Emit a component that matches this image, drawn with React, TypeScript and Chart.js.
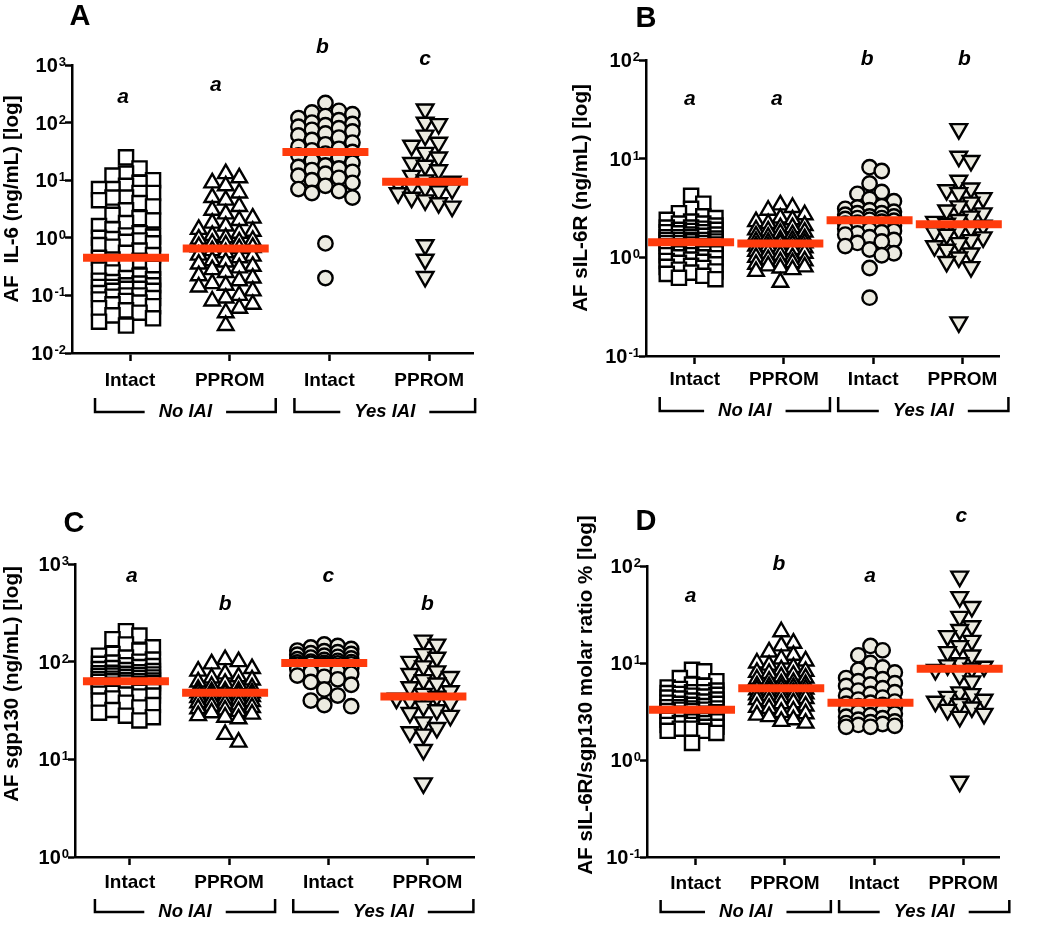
import React, { useEffect, useRef } from "react";
import { Chart, registerables } from "chart.js";
Chart.register(...registerables);

// ---------- shared labels ----------
const groupLabels = ["Intact", "PPROM", "Intact", "PPROM"];
const bracketLabels = ["No IAI", "Yes IAI"];

// ---------- Panel A: AF IL-6 (ng/mL) ----------
const aTickExps = [-2, -1, 0, 1, 2, 3];
const aIntact = [25, 16, 13, 12, 10, 9, 8, 7, 7, 6, 6, 5, 5, 4.5, 4, 3.5, 3, 2.5, 2.2, 2, 1.8, 1.6, 1.4, 1.2, 1.1, 1.05, 1, 0.95, 0.9, 0.85, 0.8, 0.75, 0.7, 0.6, 0.55, 0.5, 0.45, 0.42, 0.4, 0.35, 0.3, 0.28, 0.25, 0.22, 0.2, 0.19, 0.18, 0.17, 0.16, 0.15, 0.15, 0.14, 0.14, 0.13, 0.13, 0.12, 0.12, 0.11, 0.1, 0.1, 0.095, 0.09, 0.085, 0.08, 0.075, 0.07, 0.065, 0.06, 0.055, 0.05, 0.045, 0.04, 0.035, 0.03];
const aPprom = [13, 11, 9, 8, 6, 5, 4.5, 3.5, 3, 2.6, 2.2, 2, 1.8, 1.6, 1.4, 1.3, 1.2, 1.1, 1, 0.95, 0.9, 0.85, 0.8, 0.75, 0.7, 0.68, 0.65, 0.6, 0.55, 0.5, 0.48, 0.45, 0.4, 0.38, 0.35, 0.32, 0.3, 0.28, 0.25, 0.22, 0.2, 0.18, 0.16, 0.15, 0.14, 0.12, 0.1, 0.09, 0.08, 0.07, 0.06, 0.05, 0.03];
const aYesIntact = [220, 160, 150, 140, 130, 120, 110, 100, 95, 90, 85, 80, 75, 70, 65, 60, 55, 50, 45, 42, 38, 35, 33, 31, 29, 27, 25, 22, 20, 18, 17, 16, 15, 14, 13, 12, 11, 10, 9, 8, 7, 6.5, 6, 5, 0.8, 0.2];
const aYesPprom = [170, 100, 95, 60, 45, 40, 30, 25, 20, 18, 15, 12, 10, 9.5, 9, 8.5, 8, 7.5, 7, 6.5, 6, 5, 4.5, 4, 3.5, 0.75, 0.42, 0.21];
const aMedians = [0.45, 0.65, 31, 9.4];
const aLetters = ["a", "a", "b", "c"];

// ---------- Panel B: AF sIL-6R (ng/mL) ----------
const bTickExps = [-1, 0, 1, 2];
const bIntact = [4.2, 3.5, 3.1, 2.8, 2.6, 2.5, 2.4, 2.3, 2.2, 2.2, 2.1, 2.0, 2.0, 1.95, 1.9, 1.9, 1.85, 1.8, 1.8, 1.75, 1.7, 1.7, 1.65, 1.6, 1.6, 1.6, 1.55, 1.5, 1.5, 1.5, 1.5, 1.45, 1.45, 1.4, 1.4, 1.4, 1.35, 1.35, 1.3, 1.3, 1.3, 1.25, 1.25, 1.2, 1.2, 1.15, 1.15, 1.1, 1.1, 1.1, 1.05, 1.05, 1.0, 1.0, 0.98, 0.95, 0.92, 0.9, 0.88, 0.85, 0.82, 0.8, 0.78, 0.75, 0.72, 0.7, 0.68, 0.65, 0.62, 0.6];
const bPprom = [3.4, 3.2, 3.0, 2.7, 2.5, 2.4, 2.3, 2.2, 2.1, 2.0, 2.0, 1.9, 1.85, 1.8, 1.75, 1.7, 1.65, 1.6, 1.55, 1.5, 1.5, 1.45, 1.42, 1.4, 1.38, 1.35, 1.3, 1.28, 1.25, 1.2, 1.2, 1.15, 1.1, 1.1, 1.05, 1.0, 1.0, 0.95, 0.92, 0.9, 0.88, 0.85, 0.82, 0.8, 0.78, 0.75, 0.72, 0.56];
const bYesIntact = [8.2, 7.5, 5.6, 4.6, 4.4, 3.9, 3.7, 3.3, 3.2, 3.1, 3.0, 2.9, 2.8, 2.8, 2.7, 2.6, 2.6, 2.5, 2.5, 2.45, 2.4, 2.35, 2.3, 2.25, 2.2, 2.15, 2.1, 2.05, 2.0, 1.95, 1.9, 1.85, 1.8, 1.75, 1.7, 1.6, 1.5, 1.45, 1.4, 1.3, 1.2, 1.1, 1.05, 0.78, 0.39];
const bYesPprom = [20, 10.5, 9.5, 6, 5, 4.8, 4.5, 4, 3.6, 3.3, 3.0, 2.8, 2.6, 2.4, 2.3, 2.2, 2.1, 2.0, 1.9, 1.8, 1.7, 1.6, 1.5, 1.4, 1.3, 1.2, 1.1, 1.0, 0.9, 0.8, 0.22];
const bMedians = [1.42, 1.38, 2.37, 2.16];
const bLetters = ["a", "a", "b", "b"];

// ---------- Panel C: AF sgp130 (ng/mL) ----------
const cTickExps = [0, 1, 2, 3];
const cIntact = [205, 185, 170, 150, 140, 130, 120, 115, 110, 105, 100, 98, 95, 92, 90, 88, 86, 84, 82, 80, 78, 77, 76, 75, 74, 73, 72, 71, 70, 69, 68, 67, 66, 65, 64, 63, 63, 62, 61, 60, 59, 58, 57, 56, 55, 54, 53, 52, 51, 50, 49, 48, 47, 46, 45, 44, 42, 40, 38, 36, 34, 32, 30, 28, 27, 25];
const cPprom = [105, 100, 95, 85, 80, 75, 70, 68, 65, 62, 60, 58, 56, 54, 52, 50, 50, 49, 48, 48, 47, 46, 45, 44, 43, 42, 41, 40, 39, 38, 37, 36, 35, 34, 33, 32, 31, 30, 29, 28, 27, 26, 18, 15];
const cYesIntact = [150, 145, 140, 135, 130, 128, 125, 122, 120, 118, 115, 112, 110, 108, 106, 104, 102, 100, 99, 98, 97, 96, 95, 94, 93, 92, 90, 88, 86, 84, 82, 80, 78, 75, 72, 70, 66, 62, 58, 52, 45, 40, 36, 35];
const cYesPprom = [165, 150, 120, 110, 100, 90, 80, 75, 70, 65, 60, 55, 50, 47, 44, 42, 40, 38, 35, 32, 30, 28, 24, 21, 19, 18, 12.5, 5.7];
const cMedians = [63, 48, 97, 44];
const cLetters = ["a", "b", "c", "b"];

// ---------- Panel D: AF sIL-6R/sgp130 molar ratio % ----------
const dTickExps = [-1, 0, 1, 2];
const dIntact = [8.5, 8.2, 7.0, 6.5, 6.0, 5.8, 5.6, 5.4, 5.2, 5.0, 5.0, 4.9, 4.8, 4.7, 4.6, 4.5, 4.4, 4.3, 4.2, 4.1, 4.0, 3.9, 3.8, 3.8, 3.7, 3.6, 3.5, 3.5, 3.4, 3.4, 3.3, 3.3, 3.2, 3.2, 3.1, 3.0, 3.0, 2.9, 2.9, 2.8, 2.8, 2.7, 2.7, 2.6, 2.6, 2.5, 2.5, 2.4, 2.4, 2.3, 2.3, 2.2, 2.2, 2.1, 2.1, 2.0, 2.0, 1.9, 1.5];
const dPprom = [21, 16, 15, 13, 12, 11, 10.5, 10, 9.5, 9, 8.5, 8.2, 8, 7.8, 7.5, 7.2, 7, 6.8, 6.5, 6.3, 6.1, 6.0, 5.8, 5.7, 5.6, 5.5, 5.4, 5.3, 5.2, 5.0, 4.9, 4.8, 4.7, 4.6, 4.5, 4.4, 4.3, 4.2, 4.0, 3.9, 3.8, 3.6, 3.5, 3.4, 3.2, 3.1, 3.0, 2.9, 2.8, 2.6, 2.5, 2.4];
const dYesIntact = [15, 13.5, 12, 10, 9, 8.5, 8, 7.5, 7, 6.8, 6.5, 6.2, 6.0, 5.8, 5.5, 5.2, 5.0, 4.8, 4.6, 4.4, 4.2, 4.0, 3.9, 3.8, 3.7, 3.6, 3.5, 3.4, 3.3, 3.2, 3.1, 3.0, 2.9, 2.8, 2.7, 2.6, 2.5, 2.45, 2.4, 2.35, 2.3, 2.25, 2.2, 2.2];
const dYesPprom = [78, 48, 38, 30, 24, 22, 19, 17, 15, 13, 12, 10, 9.5, 9.2, 8.8, 8.5, 7.5, 6.5, 5, 4.8, 4.5, 4.2, 4.0, 3.8, 3.5, 3.3, 3.0, 2.8, 0.6];
const dMedians = [3.3, 5.5, 3.9, 8.7];
const dLetters = ["a", "b", "a", "c"];

// ---------- styles ----------
const FONT = "'Liberation Sans', Arial, sans-serif";
const RED = "#ff3b0c";
const BEIGE = "#ecebe1";
const DATA_SHIFT_PX = -4; // marks sit slightly left of the category tick
const markerStyles = [
  { pointStyle: "rect", radius: 10, fill: "#ffffff", rotation: 0 },
  { pointStyle: "triangle", radius: 9, fill: "#ffffff", rotation: 0 },
  { pointStyle: "circle", radius: 7.2, fill: BEIGE, rotation: 0 },
  { pointStyle: "triangle", radius: 9.6, fill: BEIGE, rotation: 180 },
];

const panels = [
  {
    id: "A", title: "AF  IL-6 (ng/mL) [log]", exps: aTickExps,
    groups: [aIntact, aPprom, aYesIntact, aYesPprom], medians: aMedians, letters: aLetters,
    box: { left: 0, top: 0, w: 525, h: 466 }, pad: { left: 72, top: 65, right: 52, bottom: 113 },
    xMin: -0.582, xMax: 3.44, titleX: 18, titleY: 199, tagX: 80, tagY: 25,
    letterDx: [-7, -14, -7, -4], letterY: [103, 91, 53, 65],
    catDy: 28, brDy: 59, brTopDy: 45, step: 13.5, gap: 12,
  },
  {
    id: "B", title: "AF sIL-6R (ng/mL) [log]", exps: bTickExps,
    groups: [bIntact, bPprom, bYesIntact, bYesPprom], medians: bMedians, letters: bLetters,
    box: { left: 525, top: 0, w: 525, h: 466 }, pad: { left: 121, top: 60, right: 6, bottom: 110 },
    xMin: -0.546, xMax: 3.41, titleX: 62, titleY: 198, tagX: 121, tagY: 27,
    letterDx: [-5, -7, -6, 2], letterY: [105, 105, 65, 65],
    catDy: 24, brDy: 55, brTopDy: 41, step: 13.5, gap: 12,
  },
  {
    id: "C", title: "AF sgp130 (ng/mL) [log]", exps: cTickExps,
    groups: [cIntact, cPprom, cYesIntact, cYesPprom], medians: cMedians, letters: cLetters,
    box: { left: 0, top: 466, w: 525, h: 467 }, pad: { left: 75, top: 98, right: 50, bottom: 76 },
    xMin: -0.554, xMax: 3.47, titleX: 18, titleY: 218, tagX: 74, tagY: 66,
    letterDx: [2, -4, 0, 0], letterY: [116, 144, 116, 144],
    catDy: 26, brDy: 55, brTopDy: 42, step: 13.5, gap: 12,
  },
  {
    id: "D", title: "AF sIL-6R/sgp130 molar ratio % [log]", exps: dTickExps,
    groups: [dIntact, dPprom, dYesIntact, dYesPprom], medians: dMedians, letters: dLetters,
    box: { left: 525, top: 466, w: 525, h: 467 }, pad: { left: 122, top: 100, right: 5, bottom: 76 },
    xMin: -0.545, xMax: 3.4, titleX: 67, titleY: 229, tagX: 121, tagY: 64,
    letterDx: [-5, -6, -4, -2], letterY: [136, 104, 116, 56],
    catDy: 26.5, brDy: 55, brTopDy: 43, step: 13.5, gap: 12,
  },
];

// beeswarm placement computed through the chart's own scales
function swarm(chart: any, gi: number, values: number[], step: number, gap: number, maxCol: number) {
  const xs = chart.scales.x;
  const ys = chart.scales.y;
  const unit = xs.getPixelForValue(1) - xs.getPixelForValue(0);
  const order = values.map((_, i) => i).sort((a, b) => values[b] - values[a]);
  const cols: number[] = [0];
  for (let k = 1; k <= maxCol; k++) cols.push(k, -k);
  const placed: { c: number; py: number }[] = [];
  const out: any[] = new Array(values.length);
  for (const i of order) {
    const py = ys.getPixelForValue(values[i]);
    let chosen: number | null = null;
    let best = 0;
    let bestD = -1;
    for (const c of cols) {
      let minD = Infinity;
      for (const p of placed) if (p.c === c) minD = Math.min(minD, Math.abs(p.py - py));
      if (minD >= gap) { chosen = c; break; }
      if (minD > bestD) { bestD = minD; best = c; }
    }
    if (chosen === null) chosen = best;
    placed.push({ c: chosen, py });
    out[i] = { x: gi + (chosen * step + DATA_SHIFT_PX) / unit, y: values[i] };
  }
  return out;
}

function Panel({ cfg }: { cfg: any }) {
  const ref = useRef<HTMLCanvasElement>(null);
  useEffect(() => {
    const deco = {
      id: "deco" + cfg.id,
      afterDraw(chart: any) {
        const ctx = chart.ctx;
        const xs = chart.scales.x;
        const ys = chart.scales.y;
        const area = chart.chartArea;
        ctx.save();
        ctx.fillStyle = "#000";
        ctx.strokeStyle = "#000";
        // y tick labels 10^n
        for (const e of cfg.exps) {
          const py = ys.getPixelForValue(Math.pow(10, e));
          const expStr = e < 0 ? "-" + -e : String(e);
          ctx.textAlign = "right";
          ctx.textBaseline = "alphabetic";
          ctx.font = `bold 13px ${FONT}`;
          const ew = ctx.measureText(expStr).width;
          const rx = area.left - 6;
          ctx.fillText(expStr, rx, py + 1);
          ctx.font = `bold 20px ${FONT}`;
          ctx.fillText("10", rx - ew - 1, py + 7);
        }
        // category labels
        ctx.font = `bold 19px ${FONT}`;
        ctx.textAlign = "center";
        ctx.textBaseline = "middle";
        groupLabels.forEach((lab, i) => {
          ctx.fillText(lab, xs.getPixelForValue(i), area.bottom + cfg.catDy);
        });
        // brackets
        ctx.lineWidth = 2.5;
        ctx.font = `italic bold 18.5px ${FONT}`;
        bracketLabels.forEach((lab, k) => {
          const x0 = xs.getPixelForValue(2 * k) - 35;
          const x1 = xs.getPixelForValue(2 * k + 1) + 46;
          const yb = area.bottom + cfg.brDy;
          const yt = area.bottom + cfg.brTopDy;
          const mid = (x0 + x1) / 2;
          const tw = ctx.measureText(lab).width;
          ctx.beginPath();
          ctx.moveTo(x0, yt);
          ctx.lineTo(x0, yb);
          ctx.lineTo(mid - tw / 2 - 14, yb);
          ctx.moveTo(mid + tw / 2 + 14, yb);
          ctx.lineTo(x1, yb);
          ctx.lineTo(x1, yt);
          ctx.stroke();
          ctx.fillText(lab, mid, yb);
        });
        // significance letters
        ctx.font = `italic bold 21px ${FONT}`;
        ctx.textBaseline = "alphabetic";
        cfg.letters.forEach((l: string, i: number) => {
          ctx.fillText(l, xs.getPixelForValue(i) + cfg.letterDx[i], cfg.letterY[i]);
        });
        // panel tag
        ctx.font = `bold 29px ${FONT}`;
        ctx.fillText(cfg.id, cfg.tagX, cfg.tagY);
        // y title
        ctx.font = `bold 20.6px ${FONT}`;
        ctx.translate(cfg.titleX, cfg.titleY);
        ctx.rotate(-Math.PI / 2);
        ctx.textAlign = "center";
        ctx.fillText(cfg.title, 0, 0);
        ctx.restore();
      },
    };

    const datasets: any[] = [
      {
        label: "median",
        data: [],
        pointStyle: "line",
        pointRadius: 43,
        pointHoverRadius: 43,
        pointBorderColor: RED,
        pointBorderWidth: 8,
        showLine: false,
        order: 0,
        clip: false,
      },
    ];
    cfg.groups.forEach((vals: number[], gi: number) => {
      const ms = markerStyles[gi];
      datasets.push({
        label: groupLabels[gi],
        data: vals.map((v) => ({ x: gi, y: v })),
        pointStyle: ms.pointStyle,
        pointRadius: ms.radius,
        pointHoverRadius: ms.radius,
        pointRotation: ms.rotation,
        pointBackgroundColor: ms.fill,
        pointBorderColor: "#000",
        pointBorderWidth: 2.4,
        showLine: false,
        order: 1,
        clip: false,
      });
    });

    const gridOpts = (len: number) => ({
      display: true,
      drawOnChartArea: false,
      drawTicks: true,
      tickLength: len,
      tickWidth: 2.5,
      tickColor: "#000",
    });

    const chart = new Chart(ref.current as HTMLCanvasElement, {
      type: "scatter",
      data: { datasets },
      options: {
        animation: false,
        responsive: false,
        devicePixelRatio: 1,
        events: [],
        layout: { padding: cfg.pad },
        plugins: { legend: { display: false }, tooltip: { enabled: false } },
        scales: {
          x: {
            type: "linear",
            min: cfg.xMin,
            max: cfg.xMax,
            afterFit: (s: any) => { s.height = 0; },
            afterBuildTicks: (s: any) => { s.ticks = groupLabels.map((_, i) => ({ value: i })); },
            ticks: { display: false },
            grid: gridOpts(8),
            border: { display: true, color: "#000", width: 2.5 },
          },
          y: {
            type: "logarithmic",
            min: Math.pow(10, cfg.exps[0]),
            max: Math.pow(10, cfg.exps[cfg.exps.length - 1]),
            afterFit: (s: any) => { s.width = 0; },
            afterBuildTicks: (s: any) => { s.ticks = cfg.exps.map((e: number) => ({ value: Math.pow(10, e) })); },
            ticks: { display: false },
            grid: gridOpts(7),
            border: { display: true, color: "#000", width: 2.5 },
          },
        },
      } as any,
      plugins: [deco],
    });

    const unit = chart.scales.x.getPixelForValue(1) - chart.scales.x.getPixelForValue(0);
    chart.data.datasets[0].data = cfg.medians.map((m: number, i: number) => ({ x: i + DATA_SHIFT_PX / unit, y: m }));
    cfg.groups.forEach((vals: number[], gi: number) => {
      chart.data.datasets[gi + 1].data = swarm(chart, gi, vals, cfg.step, cfg.gap, 2);
    });
    chart.update();

    return () => chart.destroy();
  }, [cfg]);

  return (
    <canvas
      ref={ref}
      width={cfg.box.w}
      height={cfg.box.h}
      style={{ position: "absolute", left: cfg.box.left, top: cfg.box.top, width: cfg.box.w, height: cfg.box.h }}
    />
  );
}

export default function App() {
  return (
    <div style={{ position: "absolute", left: 0, top: 0, width: 1050, height: 933, background: "#fff" }}>
      {panels.map((p) => (
        <Panel key={p.id} cfg={p} />
      ))}
    </div>
  );
}
